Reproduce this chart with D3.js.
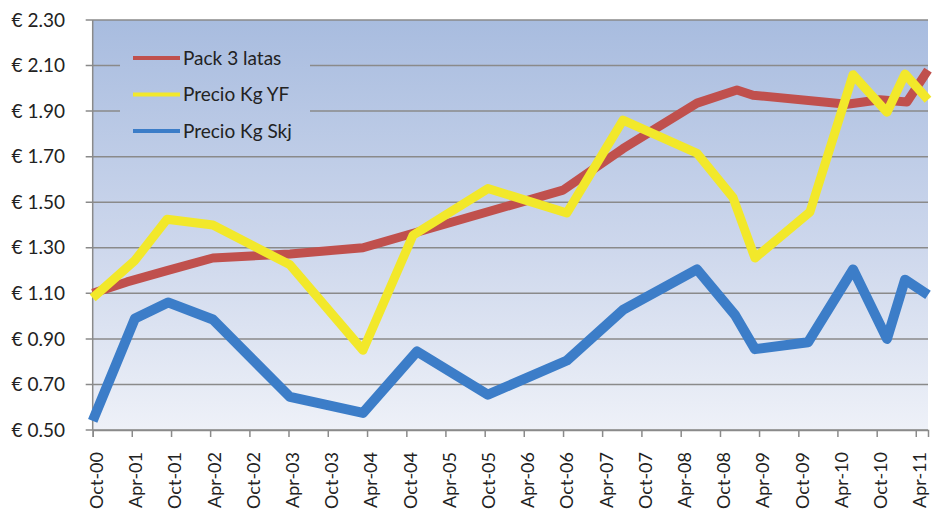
<!DOCTYPE html>
<html><head><meta charset="utf-8">
<script src="https://cdn.jsdelivr.net/npm/d3@7"></script>
<style>body{margin:0;background:#fff} svg{display:block}</style>
</head><body>
<svg id="chart" width="932" height="510"></svg>
<script>
// ---- data ----
const seriesNames = ["Pack 3 latas", "Precio Kg YF", "Precio Kg Skj"];

const packDates  = ["2000-10-01","2001-03-10","2001-09-12","2002-04-14","2003-04-08","2004-03-13","2006-10-01","2007-07-07","2008-06-16","2008-12-19","2009-03-04","2010-05-16","2010-10-16","2011-02-19","2011-05-28"];
const packValues = [1.10, 1.15, 1.20, 1.255, 1.273, 1.30, 1.553, 1.735, 1.935, 1.993, 1.97, 1.93, 1.95, 1.94, 2.08];

const yfDates  = ["2000-10-01","2001-04-16","2001-09-12","2002-04-14","2003-04-08","2004-03-13","2004-11-01","2005-10-16","2006-10-19","2007-07-07","2008-06-16","2008-12-01","2009-03-13","2009-11-24","2010-06-13","2010-11-18","2011-02-10","2011-05-28"];
const yfValues = [1.08, 1.245, 1.425, 1.40, 1.225, 0.85, 1.355, 1.56, 1.453, 1.86, 1.715, 1.52, 1.255, 1.457, 2.06, 1.895, 2.063, 1.95];

const skjDates  = ["2000-10-01","2001-04-16","2001-09-17","2002-04-14","2003-04-08","2004-03-13","2004-11-20","2005-10-16","2006-10-19","2007-07-07","2008-06-16","2008-12-10","2009-03-13","2009-11-15","2010-06-13","2010-11-18","2011-02-10","2011-05-28"];
const skjValues = [0.54, 0.99, 1.06, 0.985, 0.645, 0.575, 0.845, 0.655, 0.805, 1.027, 1.205, 1.005, 0.855, 0.885, 1.205, 0.90, 1.16, 1.093];

const xTickLabels = ["Oct-00","Apr-01","Oct-01","Apr-02","Oct-02","Apr-03","Oct-03","Apr-04","Oct-04","Apr-05","Oct-05","Apr-06","Oct-06","Apr-07","Oct-07","Apr-08","Oct-08","Apr-09","Oct-09","Apr-10","Oct-10","Apr-11"];
const yTickValues = [0.50, 0.70, 0.90, 1.10, 1.30, 1.50, 1.70, 1.90, 2.10, 2.30];
const xDomain = ["2000-10-01", "2011-05-28"];
const yDomain = [0.50, 2.30];

// ---- styles ----
const colors = ["#c0504d", "#f2e82a", "#3c7dc8"];
const widths = [9, 9, 10];
const fontFamily = "Lato, 'Open Sans', sans-serif";

const svg = d3.select("#chart");
const W = 932, H = 510;
const plot = {left: 92.7, right: 928, top: 20, bottom: 430};

const parse = d3.utcParse("%Y-%m-%d");
const parseTick = d3.utcParse("%b-%y");

const x = d3.scaleUtc().domain(xDomain.map(parse)).range([plot.left, plot.right]);
const y = d3.scaleLinear().domain(yDomain).range([plot.bottom, plot.top]);

const defs = svg.append("defs");
const grad = defs.append("linearGradient").attr("id", "bg")
  .attr("gradientUnits", "userSpaceOnUse")
  .attr("x1", 0).attr("y1", plot.top).attr("x2", 0).attr("y2", plot.bottom);
grad.append("stop").attr("offset", "0%").attr("stop-color", "#a8bcdf");
grad.append("stop").attr("offset", "55%").attr("stop-color", "#cdd7ec");
grad.append("stop").attr("offset", "100%").attr("stop-color", "#eef1f8");

svg.append("rect")
  .attr("x", plot.left).attr("y", plot.top)
  .attr("width", plot.right - plot.left).attr("height", plot.bottom - plot.top)
  .attr("fill", "url(#bg)");

// gridlines
svg.append("g").selectAll("line").data(yTickValues).join("line")
  .attr("x1", plot.left - 7).attr("x2", plot.right)
  .attr("y1", d => y(d)).attr("y2", d => y(d))
  .attr("stroke", "#8a8a8a").attr("stroke-width", 1.5);

// y axis labels
svg.append("g").selectAll("text").data(yTickValues).join("text")
  .attr("x", 65).attr("y", d => y(d)).attr("dy", "0.35em")
  .attr("text-anchor", "end")
  .attr("font-family", fontFamily).attr("font-size", 19).attr("fill", "#222")
  .text(d => "€ " + d3.format(".2f")(d));

// axes lines
svg.append("line").attr("x1", plot.left).attr("x2", plot.left)
  .attr("y1", plot.top).attr("y2", plot.bottom)
  .attr("stroke", "#8a8a8a").attr("stroke-width", 1.5);

const tickDates = xTickLabels.map(parseTick);
const xAxis = svg.append("g").attr("transform", `translate(0,${plot.bottom})`)
  .call(d3.axisBottom(x).tickValues(tickDates).tickSize(7).tickFormat(d3.utcFormat("%b-%y")));
xAxis.select(".domain").attr("stroke", "#8a8a8a").attr("stroke-width", 1.5);
xAxis.selectAll(".tick line").attr("stroke", "#8a8a8a").attr("stroke-width", 1.5);
xAxis.selectAll(".tick text")
  .attr("font-family", fontFamily).attr("font-size", 18).attr("fill", "#222")
  .attr("text-anchor", "end")
  .attr("transform", "rotate(-90)")
  .attr("x", -22).attr("y", 0).attr("dy", "0.55em");

// legend background (covers gridlines)
svg.append("rect").attr("x", 120).attr("y", 36).attr("width", 190).attr("height", 114)
  .attr("fill", "url(#bg)");

// lines
const series = [
  {name: seriesNames[0], dates: packDates, values: packValues},
  {name: seriesNames[1], dates: yfDates, values: yfValues},
  {name: seriesNames[2], dates: skjDates, values: skjValues}
];
const line = d3.line().x(d => x(d[0])).y(d => y(d[1]));
series.forEach((s, i) => {
  const pts = s.dates.map((d, j) => [parse(d), s.values[j]]);
  svg.append("path").datum(pts)
    .attr("d", line)
    .attr("fill", "none")
    .attr("stroke", colors[i])
    .attr("stroke-width", widths[i])
    .attr("stroke-linejoin", "round")
    .attr("stroke-linecap", "butt");
});

// legend
const leg = svg.append("g");
seriesNames.forEach((n, i) => {
  const ly = 58 + i * 36.5;
  leg.append("line").attr("x1", 133).attr("x2", 180).attr("y1", ly).attr("y2", ly)
    .attr("stroke", colors[i]).attr("stroke-width", 4);
  leg.append("text").attr("x", 183).attr("y", ly).attr("dy", "0.35em")
    .attr("font-family", fontFamily).attr("font-size", 19).attr("fill", "#222")
    .text(n);
});
</script>
</body></html>
